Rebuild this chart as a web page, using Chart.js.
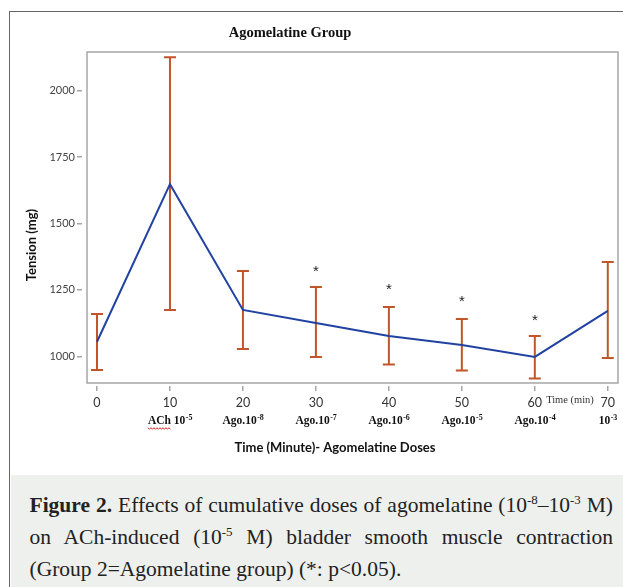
<!DOCTYPE html>
<html>
<head>
<meta charset="utf-8">
<script src="https://cdn.jsdelivr.net/npm/chart.js@4.4.1/dist/chart.umd.min.js"></script>
<style>
    html, body { margin: 0; padding: 0; background: #fff; }
    body { width: 623px; height: 587px; position: relative; overflow: hidden; }
    #frame { position: absolute; left: 9px; top: 11px; width: 660px; height: 640px; border: 1.5px solid #666; }
    #chart { position: absolute; left: 0; top: 0; }
    #caption {
        position: absolute; left: 10.5px; top: 475px; width: 612.5px; height: 112px;
        background: #eef0ee; box-sizing: border-box; padding: 14px 10px 0 19px;
        font-family: "Liberation Serif", serif; font-size: 21.5px; line-height: 32px; color: #222;
    }
    #caption .line { white-space: nowrap; text-align: justify; text-align-last: justify; }
    #caption .line.last { text-align-last: left; }
    #caption sup { font-size: 0.6em; line-height: 0; vertical-align: 0.6em; }
</style>
</head>
<body>
<div id="frame"></div>
<canvas id="chart" width="623" height="475"></canvas>
<div id="caption">
    <div class="line"><b>Figure 2.</b> Effects of cumulative doses of agomelatine (10<sup>-8</sup>–10<sup>-3</sup> M)</div>
    <div class="line">on ACh-induced (10<sup>-5</sup> M) bladder smooth muscle contraction</div>
    <div class="line last">(Group 2=Agomelatine group) (*: p&lt;0.05).</div>
</div>
<script>
// values
const timePoints = [0, 10, 20, 30, 40, 50, 60, 70];
const doseBase = ['', 'ACh 10', 'Ago.10', 'Ago.10', 'Ago.10', 'Ago.10', 'Ago.10', '10'];
const doseExp = ['', '-5', '-8', '-7', '-6', '-5', '-4', '-3'];
const tensionMean = [1055, 1648, 1175, 1126, 1077, 1043, 998, 1171];
const tensionUpper = [1160, 2125, 1321, 1261, 1186, 1141, 1077, 1355];
const tensionLower = [949, 1175, 1028, 998, 970, 947, 917, 994];
const starLevel = [null, null, null, 1329, 1261, 1216, 1145, null];
const yTicks = [1000, 1250, 1500, 1750, 2000];

const errColor = '#c0562a';
const frameColor = '#a6a6a6';

const figureExtras = {
    id: 'figureExtras',
    beforeDatasetsDraw(chart) {
        const { ctx, chartArea: a, scales: { x, y } } = chart;
        ctx.save();
        // plot box
        ctx.strokeStyle = frameColor;
        ctx.lineWidth = 1.5;
        ctx.strokeRect(a.left, a.top, a.right - a.left, a.bottom - a.top);

        // error bars
        ctx.strokeStyle = errColor;
        ctx.lineWidth = 2;
        timePoints.forEach((t, i) => {
            const px = x.getPixelForValue(t);
            const top = y.getPixelForValue(tensionUpper[i]);
            const bot = y.getPixelForValue(tensionLower[i]);
            ctx.beginPath();
            ctx.moveTo(px, top); ctx.lineTo(px, bot);
            ctx.moveTo(px - 6, top); ctx.lineTo(px + 6, top);
            ctx.moveTo(px - 6, bot); ctx.lineTo(px + 6, bot);
            ctx.stroke();
        });
        ctx.restore();
    },
    afterDraw(chart) {
        const { ctx, scales: { x, y } } = chart;
        ctx.save();
        ctx.fillStyle = '#111';
        ctx.textAlign = 'center';
        ctx.textBaseline = 'middle';

        // title
        ctx.font = 'bold 14.5px "Liberation Serif"';
        ctx.fillText('Agomelatine Group', 290, 33);

        // axis titles
        ctx.font = 'bold 13px Lato';
        ctx.fillText('Time (Minute)- Agomelatine Doses', 335, 448);
        ctx.save();
        ctx.translate(31.5, 245);
        ctx.rotate(-Math.PI / 2);
        ctx.font = 'bold 13px Lato';
        ctx.fillText('Tension (mg)', 0, 0);
        ctx.restore();

        // unit note between 60 and 70
        ctx.fillStyle = '#333';
        ctx.font = '10.5px "Liberation Serif"';
        ctx.fillText('Time (min)', 570, 400);

        // dose labels under the time ticks
        ctx.fillStyle = '#111';
        ctx.textAlign = 'left';
        const baseFont = 'bold 11.5px "Liberation Serif"';
        const expFont = 'bold 8px "Liberation Serif"';
        timePoints.forEach((t, i) => {
            if (!doseBase[i]) return;
            const px = x.getPixelForValue(t);
            ctx.font = baseFont;
            const wBase = ctx.measureText(doseBase[i]).width;
            ctx.font = expFont;
            const wExp = ctx.measureText(doseExp[i]).width;
            const x0 = px - (wBase + wExp) / 2;
            ctx.font = baseFont;
            ctx.fillText(doseBase[i], x0, 421);
            ctx.font = expFont;
            ctx.fillText(doseExp[i], x0 + wBase + 0.5, 418);

            // red spell-check squiggle under "ACh"
            if (doseBase[i].startsWith('ACh')) {
                ctx.font = baseFont;
                const wAch = ctx.measureText('ACh').width;
                ctx.strokeStyle = '#d42a2a';
                ctx.lineWidth = 1;
                ctx.beginPath();
                for (let k = 0; k <= wAch; k += 1.5) {
                    const yy = 428.5 + ((k / 1.5) % 2 === 0 ? -0.8 : 0.8);
                    if (k === 0) ctx.moveTo(x0 + k, yy); else ctx.lineTo(x0 + k, yy);
                }
                ctx.stroke();
            }
        });

        // significance marks
        ctx.fillStyle = '#222';
        ctx.textAlign = 'center';
        ctx.textBaseline = 'alphabetic';
        ctx.font = '15px "Liberation Sans"';
        const m = ctx.measureText('*');
        timePoints.forEach((t, i) => {
            if (starLevel[i] == null) return;
            const px = x.getPixelForValue(t);
            const py = y.getPixelForValue(starLevel[i]);
            ctx.fillText('*', px, py + (m.actualBoundingBoxAscent - m.actualBoundingBoxDescent) / 2);
        });
        ctx.restore();
    }
};

new Chart(document.getElementById('chart'), {
    type: 'line',
    data: {
        datasets: [{
            data: timePoints.map((t, i) => ({ x: t, y: tensionMean[i] })),
            borderColor: '#2142a0',
            borderWidth: 2,
            pointRadius: 0,
            tension: 0,
            fill: false
        }]
    },
    options: {
        responsive: false,
        animation: false,
        layout: { padding: { top: 52, right: 5, left: 0, bottom: 0 } },
        plugins: {
            legend: { display: false },
            title: { display: false },
            tooltip: { enabled: false }
        },
        scales: {
            x: {
                type: 'linear',
                min: -1.37,
                max: 71.4,
                afterBuildTicks: s => { s.ticks = timePoints.map(v => ({ value: v })); },
                afterFit: s => { s.height = 92; },
                border: { display: false },
                grid: {
                    drawOnChartArea: false,
                    tickLength: 8,
                    color: frameColor,
                    lineWidth: 1.5,
                    tickBorderDash: [5, 3],
                    tickBorderDashOffset: 5
                },
                ticks: {
                    padding: 4.4,
                    autoSkip: false,
                    maxRotation: 0,
                    color: '#333',
                    font: { family: 'Lato', size: 12.5 },
                    callback: v => String(v)
                }
            },
            y: {
                min: 900,
                max: 2145,
                afterBuildTicks: s => { s.ticks = yTicks.map(v => ({ value: v })); },
                afterFit: s => { s.width = 87; },
                border: { display: false },
                grid: {
                    drawOnChartArea: false,
                    tickLength: 10,
                    color: frameColor,
                    lineWidth: 1.5,
                    tickBorderDash: [5, 5]
                },
                ticks: {
                    padding: 2,
                    color: '#444',
                    font: { family: 'Lato', size: 11 },
                    callback: v => String(v)
                }
            }
        }
    },
    plugins: [figureExtras]
});
</script>
</body>
</html>
